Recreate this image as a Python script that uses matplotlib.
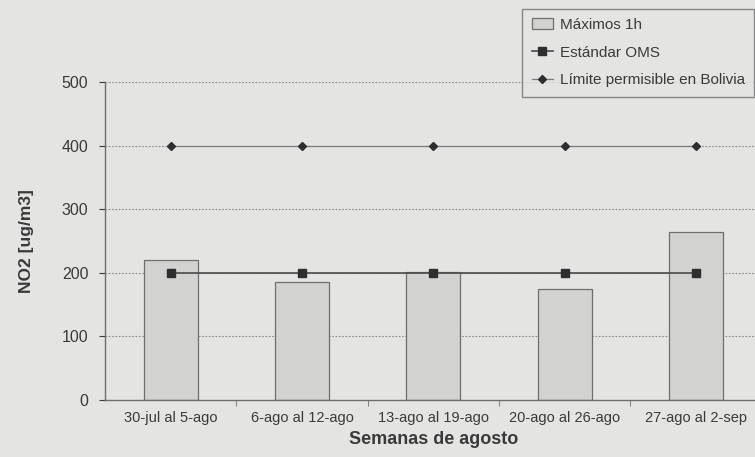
import numpy as np
import matplotlib.pyplot as plt

plt.rcParams['font.family'] = ['Liberation Sans', 'DejaVu Sans']

# Datos
semanas = ['30-jul al 5-ago', '6-ago al 12-ago', '13-ago al 19-ago',
           '20-ago al 26-ago', '27-ago al 2-sep']
maximos_1h = [220, 185, 202, 175, 264]
estandar_oms = [200, 200, 200, 200, 200]
limite_bolivia = [400, 400, 400, 400, 400]

fondo = '#e4e4e2'
texto = '#3a3a3a'

fig = plt.figure(figsize=(7.55, 4.57), dpi=100, facecolor=fondo)
ax = fig.add_axes([0.139, 0.1247, 0.870, 0.696], facecolor=fondo)

x = np.arange(len(semanas))

# Rejilla punteada
for v in [100, 200, 300, 400, 500]:
    ax.axhline(v, color='#8a8a8a', linestyle=(0, (1.5, 1.5)), linewidth=0.8, zorder=0)

# Barras
barras = ax.bar(x, maximos_1h, width=0.41, color='#d2d2d0', edgecolor='#6e6e6e',
                linewidth=0.9, label='Máximos 1h', zorder=2)

# Líneas de referencia
l_oms, = ax.plot(x, estandar_oms, color='#4a4a4a', linewidth=1.2, marker='s',
                 markersize=5.5, markerfacecolor='#2e2e2e', markeredgecolor='#2e2e2e',
                 label='Estándar OMS', zorder=3)
l_bol, = ax.plot(x, limite_bolivia, color='#7a7a7a', linewidth=0.9, marker='D',
                 markersize=4, markerfacecolor='#2e2e2e', markeredgecolor='#2e2e2e',
                 label='Límite permisible en Bolivia', zorder=3)

ax.set_xlim(-0.5, len(semanas) - 0.5)
ax.set_ylim(0, 500)

ax.set_yticks([0, 100, 200, 300, 400, 500])
ax.set_xticks(x)
ax.set_xticklabels(semanas)
ax.set_xticks(np.arange(0.5, len(semanas) - 0.5, 1), minor=True)
ax.tick_params(axis='x', which='major', length=0, pad=8, labelsize=10.5, colors=texto)
ax.tick_params(axis='x', which='minor', length=4, direction='out', color='#6e6e6e')
ax.tick_params(axis='y', length=4, direction='out', pad=8, labelsize=11.5,
               colors=texto)

for s in ['top', 'right']:
    ax.spines[s].set_visible(False)
for s in ['left', 'bottom']:
    ax.spines[s].set_color('#6e6e6e')
    ax.spines[s].set_linewidth(1.0)

ax.set_xlabel('Semanas de agosto', fontsize=13, fontweight='bold', color=texto,
              labelpad=4)
ax.set_ylabel('NO2 [ug/m3]', fontsize=12.5, fontweight='bold', color=texto,
              labelpad=20)

leg = fig.legend(handles=[barras, l_oms, l_bol], loc='upper left',
                 bbox_to_anchor=(0.692, 0.981),
                 fontsize=11, frameon=True, fancybox=False, handlelength=1.4,
                 labelspacing=0.9, borderpad=0.6, handletextpad=0.45,
                 borderaxespad=0, facecolor=fondo, edgecolor='#6e6e6e',
                 labelcolor=texto)
leg.get_frame().set_linewidth(1.0)

fig.savefig('out.png', dpi=100, facecolor=fondo)
